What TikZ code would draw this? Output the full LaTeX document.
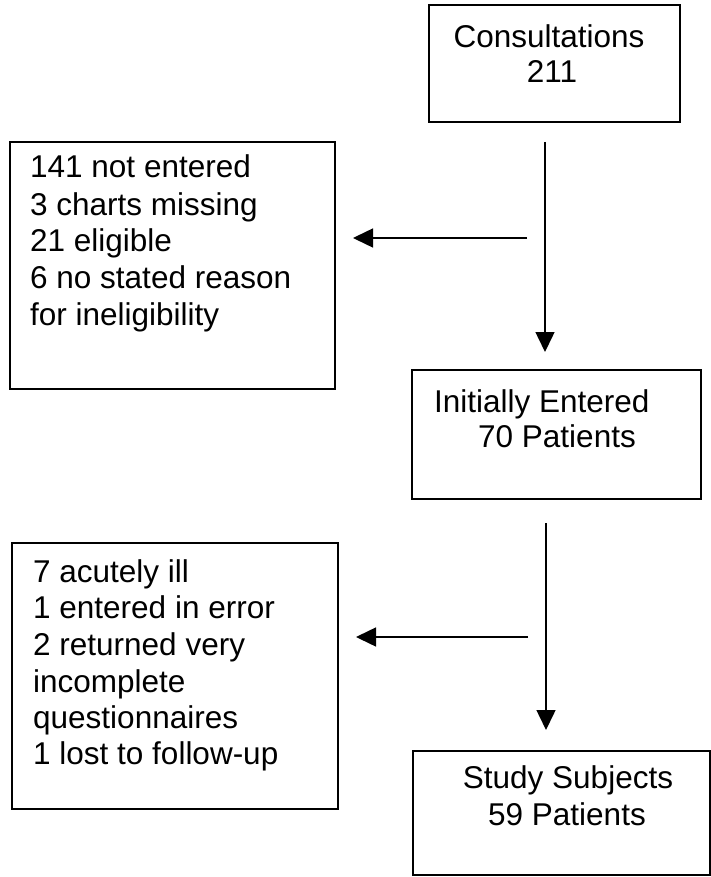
\documentclass[tikz,border=0pt]{standalone}
\usepackage{fontspec}
\setmainfont{Liberation Sans}
\usetikzlibrary{arrows.meta}
\begin{document}
\begin{tikzpicture}[x=1pt,y=-1pt,
  box/.style={draw,line width=1.6pt,inner sep=0pt,minimum width=#1},
  txt/.style={inner sep=0pt,font=\fontsize{31.5}{36.5}\selectfont},
  arr/.style={line width=1.5pt,-{Triangle[length=20pt,width=19pt]}}]
\useasboundingbox (0,0) rectangle (711,877);
% boxes
\node[box=251pt,minimum height=117pt] (b1) at (554.5,63.5) {};
\node[box=325pt,minimum height=247pt] (l1) at (172.5,265.5) {};
\node[box=289pt,minimum height=129pt] (b2) at (556.5,434.5) {};
\node[box=326pt,minimum height=266pt] (l2) at (175,676) {};
\node[box=297pt,minimum height=124pt] (b3) at (561.5,813) {};
% texts
\node[txt,anchor=base] (t11) at (549,48) {Consultations};
\node[txt,anchor=base] (t12) at (552,83) {211};
\node[txt,anchor=base west] (a1) at (30,178) {141 not entered};
\node[txt,anchor=base west] (a2) at (30,215) {3 charts missing};
\node[txt,anchor=base west] (a3) at (30,251.5) {21 eligible};
\node[txt,anchor=base west] (a4) at (30,288) {6 no stated reason};
\node[txt,anchor=base west] (a5) at (30,325) {for ineligibility};
\node[txt,anchor=base west] (t21) at (434,412) {Initially Entered};
\node[txt,anchor=base west] (t22) at (478,447) {70 Patients};
\node[txt,anchor=base west] (c1) at (33,582) {7 acutely ill};
\node[txt,anchor=base west] (c2) at (33,618) {1 entered in error};
\node[txt,anchor=base west] (c3) at (33,655) {2 returned very};
\node[txt,anchor=base west] (c4) at (33,692) {incomplete};
\node[txt,anchor=base west] (c5) at (33,728) {questionnaires};
\node[txt,anchor=base west] (c6) at (33,764) {1 lost to follow-up};
\node[txt,anchor=base] (t31) at (568,788) {Study Subjects};
\node[txt,anchor=base] (t32) at (567,825) {59 Patients};
% arrow end points
\coordinate (v1s) at (545,142);
\coordinate (v1e) at (545,352);
\coordinate (h1s) at (527,238);
\coordinate (h1e) at (353,238);
\coordinate (v2s) at (546,523);
\coordinate (v2e) at (546,730);
\coordinate (h2s) at (528,637);
\coordinate (h2e) at (356,637);
\draw[arr] (v1s) -- (v1e);
\draw[arr] (h1s) -- (h1e);
\draw[arr] (v2s) -- (v2e);
\draw[arr] (h2s) -- (h2e);
\end{tikzpicture}
\end{document}
